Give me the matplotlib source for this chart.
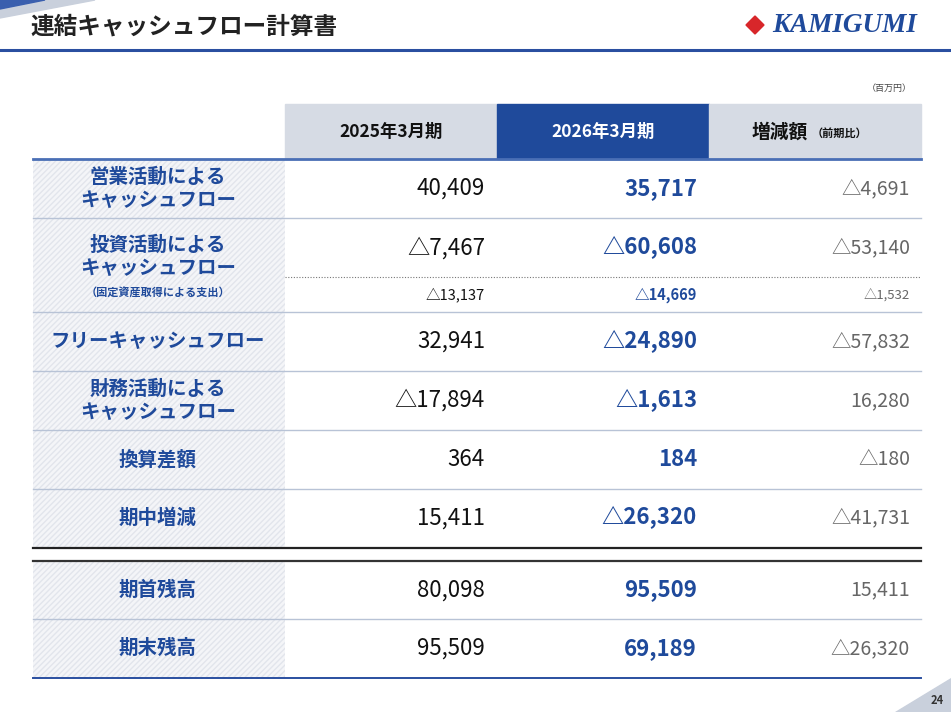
import matplotlib.pyplot as plt
from matplotlib.patches import Rectangle, Polygon

plt.rcParams['font.family'] = ['Noto Sans CJK JP', 'DejaVu Sans']

# table content
labels = ['営業活動による\nキャッシュフロー', '投資活動による\nキャッシュフロー', 'フリーキャッシュフロー',
          '財務活動による\nキャッシュフロー', '換算差額', '期中増減', '期首残高', '期末残高']
fy2025 = ['40,409', '△7,467', '32,941', '△17,894', '364', '15,411', '80,098', '95,509']
fy2026 = ['35,717', '△60,608', '△24,890', '△1,613', '184', '△26,320', '95,509', '69,189']
diff = ['△4,691', '△53,140', '△57,832', '16,280', '△180', '△41,731', '15,411', '△26,320']
capex_label = '（固定資産取得による支出）'
capex = ['△13,137', '△14,669', '△1,532']
headers = ['2025年3月期', '2026年3月期', '増減額']

blue = '#1f4a9b'
light = '#d6dbe4'

fig = plt.figure(figsize=(9.51, 7.12), dpi=100)
ax = fig.add_axes([0, 0, 1, 1])
ax.set_xlim(0, 951)
ax.set_ylim(712, 0)
ax.axis('off')

# decorations
ax.add_patch(Polygon([(0, 0), (95, 0), (0, 18)], color='#c9d0dc'))
ax.add_patch(Polygon([(0, 0), (45, 0), (0, 9)], color='#3a5fae'))
ax.add_patch(Polygon([(895, 712), (951, 712), (951, 678)], color='#c9d0dc'))
ax.text(30, 27, '連結キャッシュフロー計算書', fontsize=17, fontweight='bold', color='#222', va='center')
ax.plot([0, 951], [50, 50], color='#2a4fa0', lw=2.2)
ax.add_patch(Polygon([(755, 16), (764, 25), (755, 34), (746, 25)], color='#d8262a'))
ax.text(772, 25, 'KAMIGUMI', fontsize=19.5, fontstyle='italic', fontweight='bold', family='Liberation Serif',
        color=blue, va='center')
ax.text(912, 88, '（百万円）', fontsize=6.5, color='#444', ha='right', va='center')
ax.text(944, 701, '24', fontsize=8, fontweight='bold', color='#333', ha='right', va='center')

# header
cols = [(285, 497), (497, 709), (709, 921)]
for i, (x0, x1) in enumerate(cols):
    ax.add_patch(Rectangle((x0, 104), x1 - x0, 55, color=blue if i == 1 else light))
ax.text(391, 132, headers[0], fontsize=12.5, fontweight='bold', color='#111', ha='center', va='center')
ax.text(603, 132, headers[1], fontsize=12.5, fontweight='bold', color='white', ha='center', va='center')
ax.text(780, 132, headers[2], fontsize=13.5, fontweight='bold', color='#111', ha='center', va='center')
ax.text(812, 133, '（前期比）', fontsize=8, fontweight='bold', color='#111', ha='left', va='center')

# rows
bounds = [(159, 218), (218, 312), (312, 371), (371, 430), (430, 489), (489, 547), (561, 619), (619, 678)]
for y0, y1 in [(159, 547), (561, 678)]:
    ax.add_patch(Rectangle((33, y0), 252, y1 - y0, facecolor='#f4f5f8', edgecolor='#e2e5ec',
                           hatch='//////', lw=0))
for i, (y0, y1) in enumerate(bounds):
    ym = (y0 + y1) / 2
    vy = ym
    if i == 1:
        vy = 248
        ax.text(158, 257, labels[i], fontsize=14, fontweight='bold', color=blue, ha='center',
                va='center', linespacing=1.25)
        ax.text(158, 292, capex_label, fontsize=8, fontweight='bold', color=blue, ha='center', va='center')
        ax.plot([285, 921], [277, 277], color='#777', lw=0.8, ls=(0, (1, 1.5)))
        for x, v, c, w, s in [(485, capex[0], '#111', 'normal', 10.5), (697, capex[1], blue, 'bold', 10.5),
                              (910, capex[2], '#666', 'normal', 9.5)]:
            ax.text(x, 295, v, fontsize=s, fontweight=w, color=c, ha='right', va='center')
    else:
        ax.text(158, ym, labels[i], fontsize=14, fontweight='bold', color=blue, ha='center',
                va='center', linespacing=1.25)
    ax.text(485, vy, fy2025[i], fontsize=16, fontweight='normal', color='#111', ha='right', va='center')
    ax.text(697, vy, fy2026[i], fontsize=16, fontweight='bold', color=blue, ha='right', va='center')
    ax.text(910, vy, diff[i], fontsize=14, fontweight='normal', color='#666', ha='right', va='center')
    if y1 not in (547, 678):
        ax.plot([33, 921], [y1, y1], color='#b8c3d6', lw=1)

ax.plot([33, 921], [159, 159], color='#4a6fb5', lw=2)
ax.plot([33, 921], [547.5, 547.5], color='#222', lw=1.6)
ax.plot([33, 921], [561, 561], color='#333', lw=1.6)
ax.plot([33, 921], [678, 678], color='#2a4fa0', lw=1.4)

fig.savefig('out.png', dpi=100)
